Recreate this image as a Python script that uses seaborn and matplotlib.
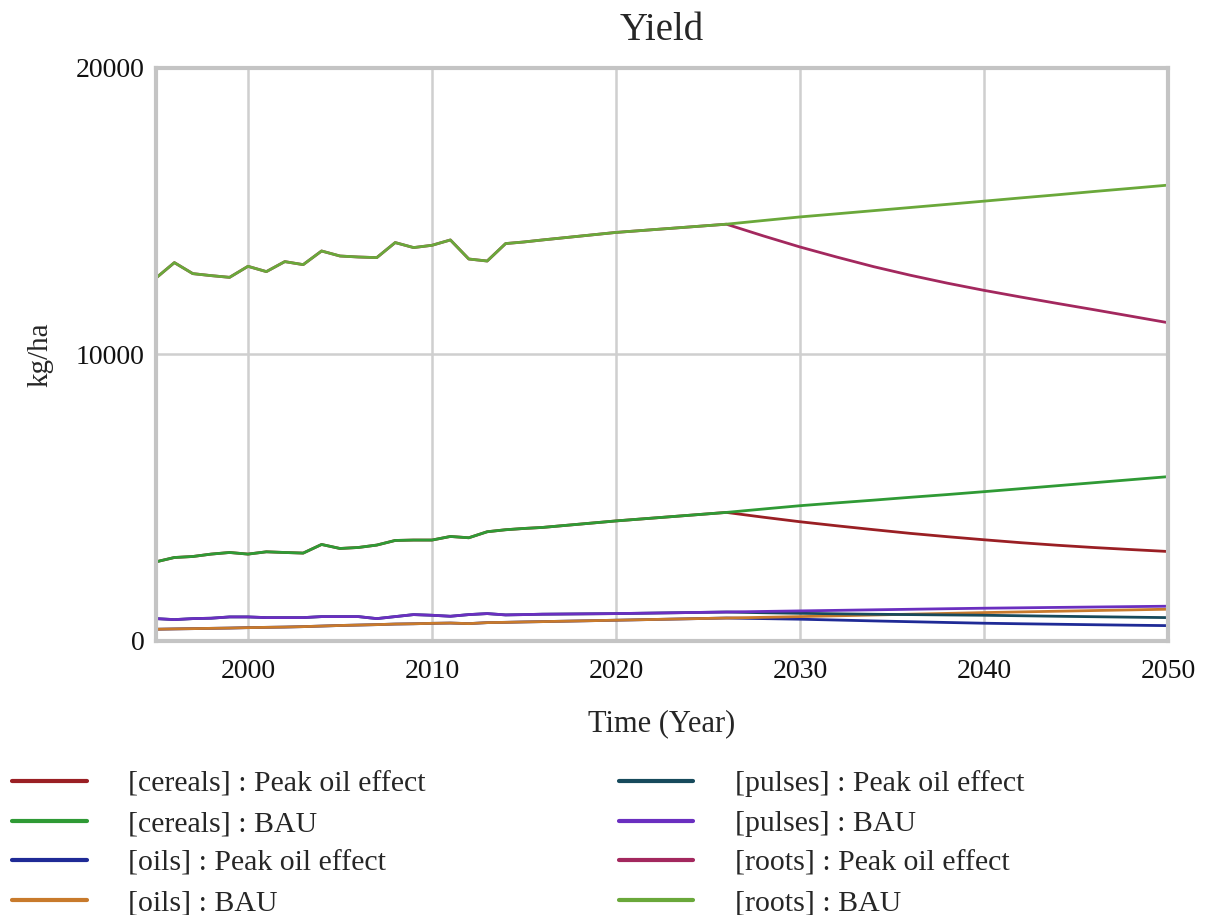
#!/usr/bin/env python3
# -*- coding: utf-8 -*-
"""
Yield per crop group, BAU vs peak oil effect (kg/ha), 1995-2050.
"""

import pandas as pd
import seaborn as sns
import matplotlib.pyplot as plt

# -------------------------- Data --------------------------
# shared time grid: annual history, then 2-year steps for the projection
HIST_YEARS = list(range(1995, 2017)) + [2020]
PROJ_YEARS = list(range(2026, 2051, 2))
YEARS = HIST_YEARS + PROJ_YEARS

# history (common to both scenarios)
cereals_hist = [2762, 2913, 2948, 3032, 3088, 3032, 3112, 3088, 3067, 3368, 3228,
                3263, 3347, 3508, 3522, 3522, 3647, 3602, 3812, 3882, 3927, 3962, 4190]
oils_hist = [409, 420, 430, 440, 450, 465, 475, 485, 500, 520, 540,
             555, 570, 590, 600, 615, 625, 605, 640, 650, 664, 675, 724]
pulses_hist = [780, 745, 780, 794, 839, 839, 815, 815, 815, 850, 850,
               850, 780, 850, 920, 897, 862, 920, 955, 909, 920, 934, 955]
roots_hist = [12668, 13206, 12822, 12752, 12692, 13077, 12892, 13241, 13136, 13612, 13437,
              13402, 13381, 13906, 13731, 13811, 13997, 13332, 13262, 13871, 13927, 13997, 14260]

# projections 2026..2050
cereals_bau = [4487, 4605, 4721, 4820, 4915, 5015, 5110, 5211, 5315, 5420, 5525, 5630, 5735]
cereals_peak = [4487, 4320, 4161, 4020, 3885, 3755, 3640, 3532, 3430, 3340, 3260, 3190, 3123]
oils_bau = [800, 825, 850, 878, 906, 934, 962, 990, 1014, 1038, 1062, 1085, 1108]
oils_peak = [800, 780, 759, 730, 700, 672, 645, 619, 600, 583, 566, 550, 535]
pulses_bau = [1010, 1030, 1049, 1068, 1087, 1106, 1125, 1143, 1157, 1171, 1185, 1199, 1213]
pulses_peak = [1010, 985, 965, 948, 932, 920, 908, 897, 880, 862, 846, 830, 815]
roots_bau = [14547, 14675, 14801, 14910, 15020, 15130, 15240, 15352, 15465, 15575, 15690, 15800, 15911]
roots_peak = [14547, 14140, 13752, 13400, 13065, 12765, 12490, 12238, 12005, 11780, 11560, 11335, 11109]

SERIES = {
    "[cereals] : Peak oil effect": cereals_hist + cereals_peak,
    "[cereals] : BAU": cereals_hist + cereals_bau,
    "[oils] : Peak oil effect": oils_hist + oils_peak,
    "[oils] : BAU": oils_hist + oils_bau,
    "[pulses] : Peak oil effect": pulses_hist + pulses_peak,
    "[pulses] : BAU": pulses_hist + pulses_bau,
    "[roots] : Peak oil effect": roots_hist + roots_peak,
    "[roots] : BAU": roots_hist + roots_bau,
}
COLORS = ["#9a1f24", "#2f9a35", "#1f2a96", "#c87a2c",
          "#174a5c", "#6a2fc0", "#a3285e", "#6aa83a"]

# -------------------------- Long format --------------------------
df = pd.concat(
    [pd.DataFrame({"year": YEARS, "value": vals, "series": name}) for name, vals in SERIES.items()],
    ignore_index=True,
)
order = list(SERIES.keys())
palette = dict(zip(order, COLORS))

# -------------------------- Plot --------------------------
sns.set_theme(style="whitegrid")
plt.rcParams["font.family"] = ["Liberation Serif", "DejaVu Serif"]

fig = plt.figure(figsize=(12.11, 9.15), dpi=100)
ax = fig.add_axes([0.1288, 0.2995, 0.8357, 0.6262])

sns.lineplot(data=df, x="year", y="value", hue="series", hue_order=order,
             palette=palette, linewidth=2.0, ax=ax)

ax.set_xlim(1995, 2050)
ax.set_ylim(0, 20000)
ax.set_xticks([2000, 2010, 2020, 2030, 2040, 2050])
ax.set_yticks([0, 10000, 20000])
ax.grid(True, color="#cfcfcf", linewidth=1.8)
for sp in ax.spines.values():
    sp.set_color("#c4c4c4")
    sp.set_linewidth(3)
ax.tick_params(labelsize=20, length=0, colors="#111111")
ax.tick_params(axis="x", pad=13)
ax.tick_params(axis="y", pad=8)

ax.set_title("Yield", fontsize=28, pad=20)
ax.set_xlabel("Time (Year)", fontsize=22, labelpad=18)
ax.set_ylabel("kg/ha", fontsize=21, labelpad=16)

handles, labels = ax.get_legend_handles_labels()
ax.get_legend().remove()
leg = fig.legend(handles, labels, loc="upper left", bbox_to_anchor=(0.0, 0.171),
                 borderaxespad=0, ncol=2, frameon=False, fontsize=21.5,
                 handlelength=2.5, handletextpad=1.4, columnspacing=6.45,
                 labelspacing=0.43)
for h in leg.get_lines():
    h.set_linewidth(3)

fig.savefig("out.png", dpi=100)
